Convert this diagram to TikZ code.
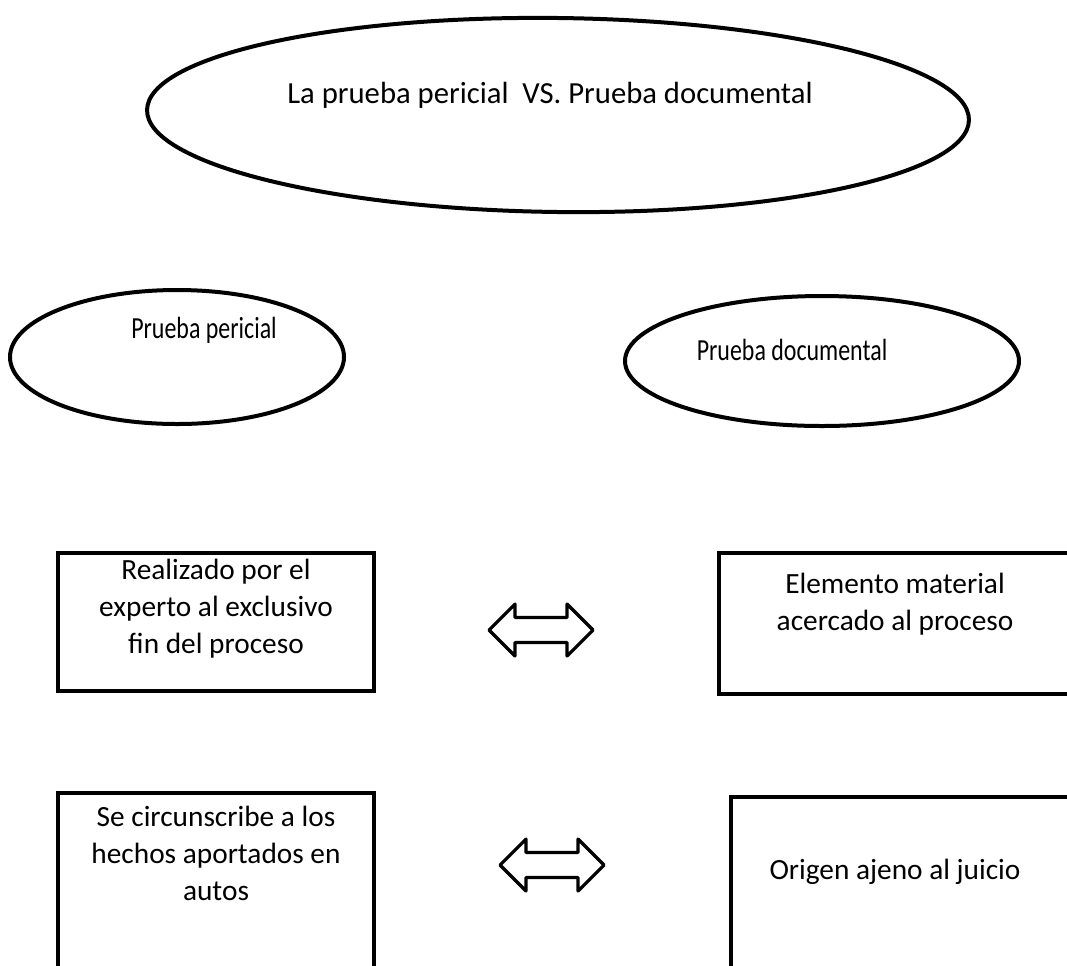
\documentclass[tikz,border=0pt]{standalone}
\usepackage{fontspec}
\setmainfont{Carlito}
\usetikzlibrary{shapes.geometric,fit}
\begin{document}
\begin{tikzpicture}[x=0.75pt,y=-0.75pt,
  ell/.style={draw, ellipse, line width=3pt, inner sep=0pt},
  box/.style={draw, line width=3pt, inner sep=0pt, rectangle},
  txt/.style={font=\fontsize{22}{27.75}\selectfont, align=center, inner sep=0pt},
  etxt/.style={font=\fontsize{23}{28}\selectfont, inner sep=0pt},
  dbl/.style={draw, line width=2.4pt, line join=round}]
\clip (0,0) rectangle (1067,965);
\fill[white] (0,0) rectangle (1067,965);
% ellipses
\node[ell, rotate=-0.7, minimum width=616.5pt, minimum height=145.5pt] (top) at (558,115) {};
\node[etxt] (toptxt) at (550,95) {La prueba pericial\ \ VS. Prueba documental};
\node[ell, minimum width=250.5pt, minimum height=100.5pt] (pp) at (177,357) {};
\node[etxt] (pptxt) at (204,330) {\scalebox{0.78}[1]{Prueba pericial}};
\node[ell, minimum width=295.5pt, minimum height=97.5pt] (pd) at (822,361) {};
\node[etxt] (pdtxt) at (792,350) {\scalebox{0.78}[1]{Prueba documental}};
% boxes
\node[box, fit={(58,553) (374,691)}] (b1) {};
\node[txt] (b1t) at (216,609) {Realizado por el\\experto al exclusivo\\fin del proceso};
\node[box, fit={(719,553) (1100,694)}] (b2) {};
\node[txt] (b2t) at (895,604) {Elemento material\\acercado al proceso};
\node[box, fit={(58,793) (374,1000)}] (b3) {};
\node[txt] (b3t) at (216,853) {Se circunscribe a los\\hechos aportados en\\autos};
\node[box, fit={(731,797) (1100,1000)}] (b4) {};
\node[txt] (b4t) at (895,872) {Origen ajeno al juicio};
% double arrows
\coordinate (a1) at (541,630);
\coordinate (a2) at (552,865);
\foreach \c in {a1,a2}{
  \begin{scope}[shift={(\c)}]
    \draw[dbl] (-52,0) -- (-26,-26) -- (-26,-12.5) -- (26,-12.5) -- (26,-26) -- (52,0)
      -- (26,26) -- (26,12.5) -- (-26,12.5) -- (-26,26) -- cycle;
  \end{scope}
}
\end{tikzpicture}
\end{document}
